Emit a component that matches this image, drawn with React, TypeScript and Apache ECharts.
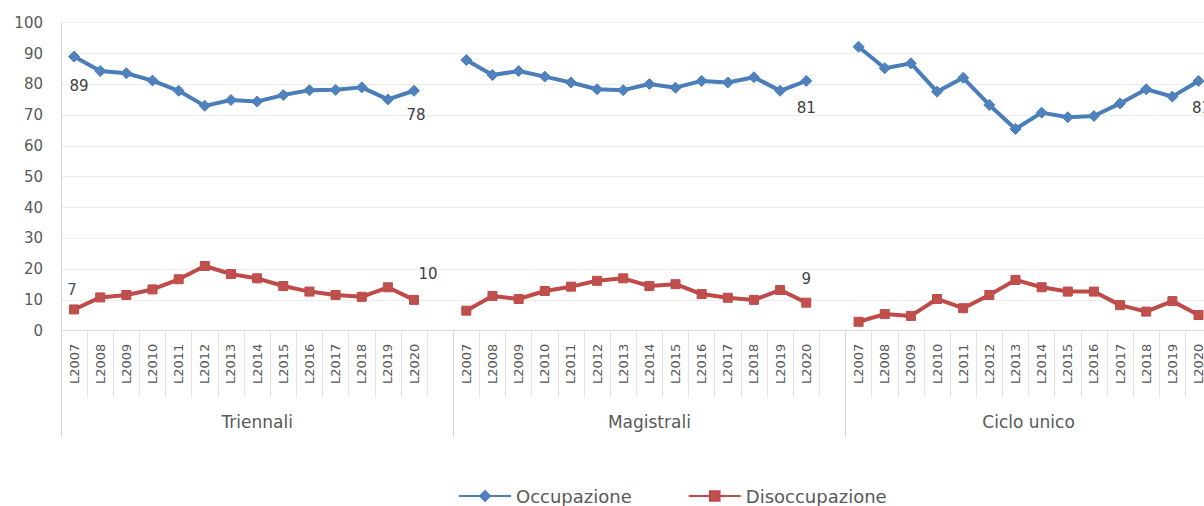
import React, { useEffect, useRef } from "react";
import * as echarts from "echarts";

const years = ["L2007", "L2008", "L2009", "L2010", "L2011", "L2012", "L2013", "L2014", "L2015", "L2016", "L2017", "L2018", "L2019", "L2020"];
const groups = ["Triennali", "Magistrali", "Ciclo unico"];
const seriesNames = ["Occupazione", "Disoccupazione"];

const occTriennali = [89.0, 84.3, 83.6, 81.2, 77.9, 73.0, 74.9, 74.4, 76.5, 78.1, 78.2, 79.0, 75.1, 77.9];
const occMagistrali = [87.9, 83.0, 84.3, 82.5, 80.6, 78.4, 78.1, 80.1, 78.9, 81.1, 80.6, 82.3, 77.9, 81.1];
const occCicloUnico = [92.2, 85.2, 86.8, 77.6, 82.1, 73.3, 65.5, 70.8, 69.3, 69.7, 73.8, 78.4, 76.0, 81.1];

const disTriennali = [6.9, 10.8, 11.6, 13.4, 16.7, 21.0, 18.4, 17.0, 14.5, 12.7, 11.6, 11.0, 14.1, 10.0];
const disMagistrali = [6.5, 11.3, 10.3, 12.9, 14.3, 16.2, 17.0, 14.5, 15.1, 11.9, 10.7, 10.0, 13.2, 9.1];
const disCicloUnico = [2.9, 5.4, 4.8, 10.3, 7.3, 11.6, 16.5, 14.1, 12.7, 12.7, 8.3, 6.2, 9.6, 5.1];

const yTicks = { min: 0, max: 100, interval: 10 };

const FONT = "DejaVu Sans";
const GREY = "#595959";
const CHART_W = 1220;
const CHART_H = 506;
const GRID = { left: 61, right: 8.4, top: 22.7, bottom: 175.3 };

export default function App() {
  const ref = useRef<HTMLDivElement>(null);

  useEffect(() => {
    const chart = echarts.init(ref.current!, null, { renderer: "svg" });

    const categories: string[] = [];
    const groupStarts: number[] = [];
    const groupSizes: number[] = [];
    const groupOfIndex: number[] = [];
    groups.forEach((g, gi) => {
      groupStarts.push(categories.length);
      years.forEach((y) => {
        categories.push(gi + "|" + y);
        groupOfIndex.push(gi);
      });
      if (gi < groups.length - 1) {
        categories.push(gi + "|");
        groupOfIndex.push(gi);
      }
      groupSizes.push(categories.length - groupStarts[gi]);
    });
    const labelIdx = groupStarts.map((s, gi) => s + Math.floor((groupSizes[gi] - 1) / 2));
    const shifted = groupSizes.map((n) => n % 2 === 0);
    const catW = (CHART_W - GRID.left - GRID.right) / categories.length;

    const concatWithGaps = (arrs: number[][]) => {
      const out: (number | null)[] = [];
      arrs.forEach((a, i) => {
        out.push(...a);
        if (i < arrs.length - 1) out.push(null);
      });
      return out;
    };

    const occ = concatWithGaps([occTriennali, occMagistrali, occCicloUnico]);
    const dis = concatWithGaps([disTriennali, disMagistrali, disCicloUnico]);

    const lastIdx = (gi: number) => groupStarts[gi] + years.length - 1;

    const labelStyle = { fontFamily: FONT, fontSize: 15, color: "#404040" };

    const occLabels: Record<number, any> = {
      [groupStarts[0]]: { position: "bottom", distance: 16, offset: [5, 0] },
      [lastIdx(0)]: { position: "bottom", distance: 11, offset: [2, 0] },
      [lastIdx(1)]: { position: "bottom", distance: 14 },
      [lastIdx(2)]: { position: "bottom", distance: 14, offset: [3, 0] },
    };
    const disLabels: Record<number, any> = {
      [groupStarts[0]]: { position: "top", distance: 7, offset: [-2, 0], color: "#44546A" },
      [lastIdx(0)]: { position: "top", distance: 13, offset: [14, 0] },
      [lastIdx(1)]: { position: "top", distance: 11 },
    };

    const toData = (vals: (number | null)[], labels: Record<number, any>) =>
      vals.map((v, i) =>
        labels[i] && v !== null
          ? { value: v, label: { show: true, ...labelStyle, ...labels[i], formatter: (p: any) => String(Math.round(p.value)) } }
          : v
      );

    const option: any = {
      animation: false,
      backgroundColor: "#ffffff",
      textStyle: { fontFamily: FONT },
      grid: { ...GRID, containLabel: false, outerBoundsMode: "none" },
      legend: {
        data: seriesNames,
        left: 453,
        top: 482,
        itemWidth: 52,
        itemHeight: 12,
        itemGap: 56,
        textStyle: { fontFamily: FONT, fontSize: 18, color: GREY },
      },
      xAxis: [
        {
          type: "category",
          data: categories,
          boundaryGap: true,
          axisLine: { show: true, lineStyle: { color: "#d9d9d9", width: 1 } },
          axisTick: { show: true, interval: 0, length: 67, lineStyle: { color: "#e3e3e3", width: 1 } },
          axisLabel: {
            interval: 0,
            rotate: 90,
            margin: 13,
            fontFamily: FONT,
            fontSize: 13,
            color: GREY,
            formatter: (v: string) => v.split("|")[1],
          },
          splitLine: { show: false },
        },
        {
          type: "category",
          data: categories,
          boundaryGap: true,
          position: "bottom",
          axisLine: { show: false },
          axisTick: {
            show: true,
            interval: (i: number) => groupStarts.includes(i),
            length: 107,
            lineStyle: { color: "#d9d9d9", width: 1 },
          },
          axisLabel: {
            interval: (i: number) => labelIdx.includes(i),
            margin: 83,
            formatter: (_v: string, i: number) => {
              const gi = groupOfIndex[i];
              return (shifted[gi] ? "{s|" : "{g|") + groups[gi] + "}";
            },
            rich: {
              g: { fontFamily: FONT, fontSize: 17, color: GREY },
              s: { fontFamily: FONT, fontSize: 17, color: GREY, padding: [0, 0, 0, catW] },
            },
          },
          splitLine: { show: false },
        },
      ],
      yAxis: {
        type: "value",
        min: yTicks.min,
        max: yTicks.max,
        interval: yTicks.interval,
        axisLine: { show: true, lineStyle: { color: "#d9d9d9", width: 1 } },
        axisTick: { show: false },
        axisLabel: { margin: 18, fontFamily: FONT, fontSize: 15, color: GREY },
        splitLine: { show: true, lineStyle: { color: "#ececec", width: 1 } },
      },
      series: [
        {
          name: seriesNames[0],
          type: "line",
          xAxisIndex: 0,
          data: toData(occ, occLabels),
          symbol: "diamond",
          symbolSize: 11,
          lineStyle: { color: "#4A7EBB", width: 4 },
          itemStyle: { color: "#4F81BD", borderColor: "#4A7EBB", borderWidth: 1 },
          label: { show: false },
          connectNulls: false,
        },
        {
          name: seriesNames[1],
          type: "line",
          xAxisIndex: 0,
          data: toData(dis, disLabels),
          symbol: "rect",
          symbolSize: 9,
          lineStyle: { color: "#BE4B48", width: 4 },
          itemStyle: { color: "#C0504D", borderColor: "#BE4B48", borderWidth: 1 },
          label: { show: false },
          connectNulls: false,
        },
      ],
    };

    chart.setOption(option);
    return () => chart.dispose();
  }, []);

  return (
    <div
      style={{
        position: "fixed",
        left: 0,
        top: 0,
        width: 1204,
        height: CHART_H,
        overflow: "hidden",
        background: "#ffffff",
      }}
    >
      <div ref={ref} style={{ width: CHART_W, height: CHART_H }} />
    </div>
  );
}
